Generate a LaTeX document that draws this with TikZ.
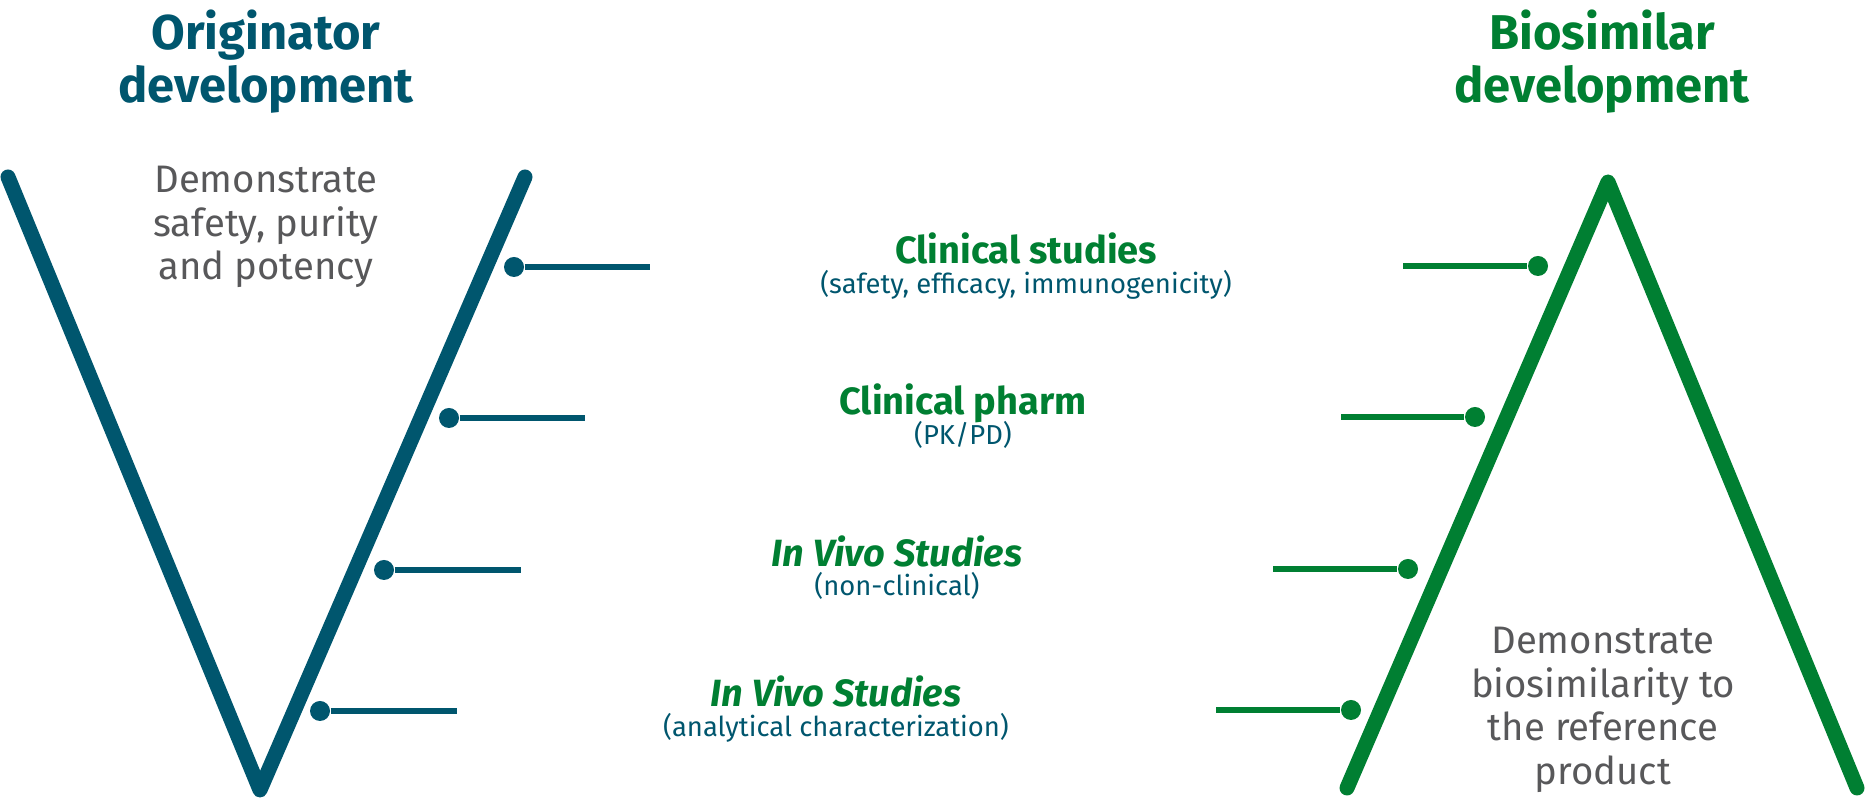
\documentclass[tikz,border=0pt]{standalone}
\usepackage{fontspec}
\setmainfont{Fira Sans}
\definecolor{orig}{HTML}{00566E}
\definecolor{bios}{HTML}{007F32}
\definecolor{textgrey}{HTML}{58585A}
\tikzset{
  heading/.style={font=\fontsize{13.9}{15.1}\selectfont\bfseries, align=center, inner sep=0pt},
  aim/.style={text=textgrey, font=\fontsize{10.9}{12.4}\selectfont, align=center, inner sep=0pt},
  stage/.style={text=bios, font=\fontsize{10.8}{11}\selectfont\bfseries, anchor=base, inner sep=0pt},
  note/.style={text=orig, font=\fontsize{7.8}{9}\selectfont, anchor=base, inner sep=0pt},
  dot/.style={circle, fill, inner sep=0pt, minimum size=2mm},
  leg/.style={line width=1.5mm, line cap=round, line join=round},
  rung/.style={line width=0.6mm},
}
\begin{document}
\begin{tikzpicture}[x=0.1mm,y=-0.1mm]
  \useasboundingbox (0,0) rectangle (1869,803);
  \node[heading, text=orig] (origtitle) at (266,62) {Originator\\development};
  \node[heading, text=bios] (biotitle) at (1602,62) {Biosimilar\\development};
  \node[aim] (origaim) at (266,227) {Demonstrate\\safety, purity\\and potency};
  \node[aim] (bioaim) at (1603,710) {Demonstrate\\biosimilarity to\\the reference\\product};
  % originator V and biosimilar peak
  \draw[orig, leg] (8,177) -- (260,790) -- (525,177);
  \draw[bios, leg] (1347,788) -- (1608,182) -- (1857,788);
  % left rungs
  \node[dot, orig] (o1) at (514,267) {};
  \node[dot, orig] (o2) at (449,418) {};
  \node[dot, orig] (o3) at (384,570) {};
  \node[dot, orig] (o4) at (320,711) {};
  \coordinate (oe1) at (650,267);
  \coordinate (oe2) at (585,418);
  \coordinate (oe3) at (521,570);
  \coordinate (oe4) at (457,711);
  \draw[orig, rung] (o1) -- (oe1);
  \draw[orig, rung] (o2) -- (oe2);
  \draw[orig, rung] (o3) -- (oe3);
  \draw[orig, rung] (o4) -- (oe4);
  % right rungs
  \node[dot, bios] (b1) at (1538,266) {};
  \node[dot, bios] (b2) at (1475,417) {};
  \node[dot, bios] (b3) at (1408,569) {};
  \node[dot, bios] (b4) at (1351,710) {};
  \coordinate (be1) at (1403,266);
  \coordinate (be2) at (1341,417);
  \coordinate (be3) at (1273,569);
  \coordinate (be4) at (1216,710);
  \draw[bios, rung] (be1) -- (b1);
  \draw[bios, rung] (be2) -- (b2);
  \draw[bios, rung] (be3) -- (b3);
  \draw[bios, rung] (be4) -- (b4);
  % stages
  \node[stage] (s1) at (1026,264) {Clinical studies};
  \node[note] (n1) at (1026,294) {(safety, efficacy, immunogenicity)};
  \node[stage] (s2) at (963,415) {Clinical pharm};
  \node[note] (n2) at (963,445) {(PK/PD)};
  \node[stage] (s3) at (897,567) {\itshape In Vivo Studies};
  \node[note] (n3) at (897,596) {(non-clinical)};
  \node[stage] (s4) at (836,707) {\itshape In Vivo Studies};
  \node[note] (n4) at (836,737) {(analytical characterization)};
\end{tikzpicture}
\end{document}
